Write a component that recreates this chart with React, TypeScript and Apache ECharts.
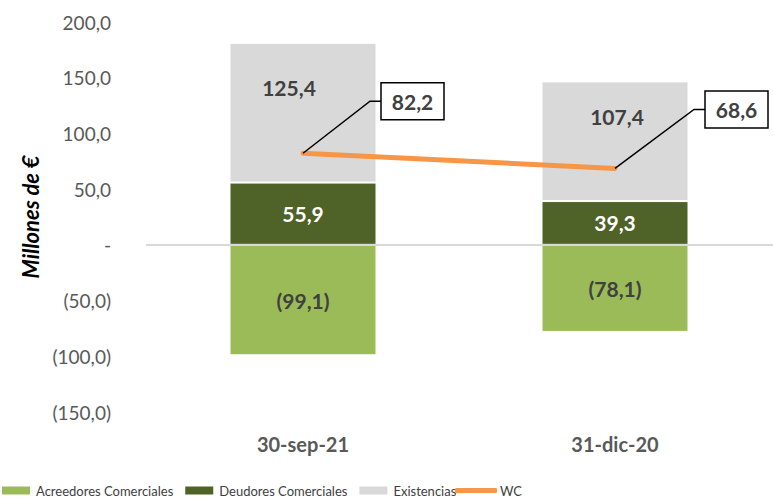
import React, { useEffect, useRef } from "react";
import * as echarts from "echarts";

const categories = ["30-sep-21", "31-dic-20"];
const acreedores = [-99.1, -78.1];
const deudores = [55.9, 39.3];
const existencias = [125.4, 107.4];
const wc = [82.2, 68.6];
const yTicks = { min: -150, max: 200, interval: 50 };

const FONT = "Lato, sans-serif";
const GREY = "#595959";
const DARK = "#404040";

const fmt = (v: number) => {
  if (v === 0) return "-";
  const s = Math.abs(v).toFixed(1).replace(".", ",");
  return v < 0 ? "(" + s + ")" : s;
};

// callout offsets: [dx to box left, dy to box center]
const calloutOffsets = [
  [78, -52],
  [90, -59],
];
// label offsets for Existencias labels
const existLabelOffsets = [
  [-14, -25],
  [2, -25],
];

export default function App() {
  const ref = useRef<HTMLDivElement>(null);
  useEffect(() => {
    if (!ref.current) return;
    const chart = echarts.init(ref.current, null, { renderer: "svg" });
    const barLabel = (color: string) => ({
      show: true,
      position: "inside",
      color,
      fontFamily: FONT,
      fontWeight: "bold",
      fontSize: 21,
      formatter: (p: any) => fmt(p.value),
    });
    const legendText = { color: DARK, fontFamily: FONT, fontSize: 13 };
    chart.setOption({
      animation: false,
      grid: { left: 147, right: 2, top: 22, bottom: 90 },
      legend: [
        {
          left: 0,
          top: 484,
          padding: 0,
          itemWidth: 30,
          itemHeight: 10,
          itemGap: 10,
          icon: "rect",
          textStyle: legendText,
          data: ["Acreedores Comerciales", "Deudores Comerciales", "Existencias"],
        },
        {
          left: 455,
          top: 484,
          padding: 0,
          itemWidth: 42,
          itemHeight: 5,
          icon: "roundRect",
          textStyle: { ...legendText, padding: [0, 0, 0, -2] },
          data: ["WC"],
        },
      ],
      xAxis: {
        type: "category",
        data: categories,
        axisLine: { show: false },
        axisTick: { show: false },
        axisLabel: {
          color: GREY,
          fontFamily: FONT,
          fontWeight: "bold",
          fontSize: 20,
          margin: 22,
        },
      },
      yAxis: {
        type: "value",
        min: yTicks.min,
        max: yTicks.max,
        interval: yTicks.interval,
        splitLine: { show: false },
        axisLine: { show: false },
        axisTick: { show: false },
        axisLabel: {
          color: GREY,
          fontFamily: FONT,
          fontSize: 19,
          margin: 36,
          formatter: (v: number) => fmt(v),
        },
      },
      graphic: [
        {
          type: "text",
          x: 30,
          y: 217,
          rotation: Math.PI / 2,
          style: {
            text: "Millones de €",
            fill: "#000",
            fontFamily: FONT,
            fontStyle: "italic",
            fontWeight: "bold",
            fontSize: 22,
            textAlign: "center",
            textVerticalAlign: "middle",
          },
        },
      ],
      series: [
        {
          name: "Acreedores Comerciales",
          type: "bar",
          stack: "s",
          barWidth: 147,
          data: acreedores,
          itemStyle: { color: "#9BBB59", borderColor: "#fff", borderWidth: 1 },
          label: barLabel(DARK),
          z: 2,
        },
        {
          name: "Deudores Comerciales",
          type: "bar",
          stack: "s",
          data: deudores,
          itemStyle: { color: "#4F6228", borderColor: "#fff", borderWidth: 1 },
          label: barLabel("#fff"),
          z: 2,
        },
        {
          name: "Existencias",
          type: "bar",
          stack: "s",
          data: existencias.map((v, i) => ({
            value: v,
            label: { offset: existLabelOffsets[i] },
          })),
          itemStyle: { color: "#D9D9D9", borderColor: "#fff", borderWidth: 1 },
          label: barLabel(DARK),
          z: 2,
          markLine: {
            silent: true,
            symbol: "none",
            label: { show: false },
            lineStyle: { color: "#D9D9D9", width: 2, type: "solid" },
            data: [[{ x: 146, yAxis: 0 }, { x: 773, yAxis: 0 }]],
            z: 3,
          },
        },
        {
          name: "WC",
          type: "line",
          data: wc,
          symbol: "none",
          lineStyle: { color: "#F79646", width: 5, cap: "round" },
          itemStyle: { color: "#F79646" },
          z: 4,
        },
        {
          name: "callouts",
          type: "custom",
          data: wc.map((v, i) => [i, v]),
          z: 5,
          renderItem: (params: any, api: any) => {
            const p = api.coord([api.value(0), api.value(1)]);
            const [dx, dy] = calloutOffsets[params.dataIndex];
            const bx = p[0] + dx;
            const by = p[1] + dy;
            const w = 63;
            const h = 37;
            return {
              type: "group",
              children: [
                {
                  type: "polyline",
                  shape: { points: [[p[0], p[1]], [bx - 11, by], [bx, by]] },
                  style: { stroke: "#000", lineWidth: 1.5, fill: null },
                },
                {
                  type: "rect",
                  shape: { x: bx, y: by - h / 2, width: w, height: h },
                  style: { fill: "#fff", stroke: "#000", lineWidth: 1.5 },
                },
                {
                  type: "text",
                  x: bx + w / 2,
                  y: by,
                  style: {
                    text: fmt(api.value(1)),
                    fill: DARK,
                    fontFamily: FONT,
                    fontWeight: "bold",
                    fontSize: 21,
                    textAlign: "center",
                    textVerticalAlign: "middle",
                  },
                },
              ],
            };
          },
        },
      ],
    });
    return () => chart.dispose();
  }, []);
  return (
    <div style={{ position: "absolute", left: 0, top: 0, width: 773, height: 502 }}>
      <div ref={ref} style={{ width: 773, height: 502 }} />
    </div>
  );
}
